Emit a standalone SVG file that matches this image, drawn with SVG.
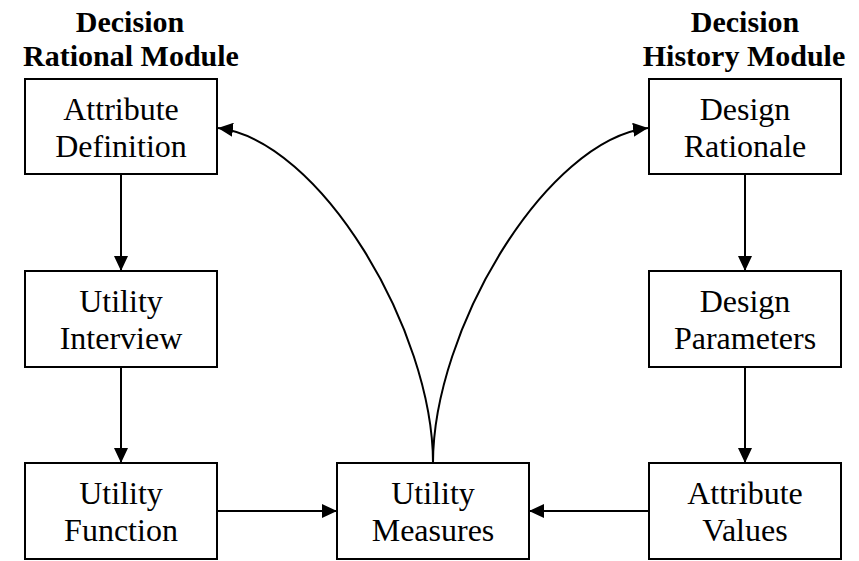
<svg xmlns="http://www.w3.org/2000/svg" width="859" height="561" viewBox="0 0 859 561">
<style>
.box{fill:#fff;stroke:#000;stroke-width:2}
.lbl{font-family:'Liberation Serif','DejaVu Serif',serif;font-size:32px;text-anchor:middle;fill:#000}
.ttl{font-family:'Liberation Serif','DejaVu Serif',serif;font-size:30px;font-weight:bold;text-anchor:middle;fill:#000}
.con{fill:none;stroke:#000;stroke-width:2}
</style>
<defs>
<marker id="arr" markerUnits="userSpaceOnUse" markerWidth="16" markerHeight="14" refX="15" refY="7" orient="auto">
<path d="M0,0 L15,7 L0,14 Z" fill="#000"/>
</marker>
</defs>
<rect width="859" height="561" fill="#fff"/>
<g id="titles">
<text class="ttl" x="130" y="32">Decision</text>
<text class="ttl" x="131" y="66">Rational Module</text>
<text class="ttl" x="745" y="32">Decision</text>
<text class="ttl" x="744" y="66">History Module</text>
</g>
<g id="connectors">
<path class="con" d="M121,174 L121,271" marker-end="url(#arr)"/>
<path class="con" d="M121,367 L121,463" marker-end="url(#arr)"/>
<path class="con" d="M745,174 L745,271" marker-end="url(#arr)"/>
<path class="con" d="M745,367 L745,463" marker-end="url(#arr)"/>
<path class="con" d="M217,511 L337,511" marker-end="url(#arr)"/>
<path class="con" d="M649,511 L529,511" marker-end="url(#arr)"/>
<path class="con" d="M433,463 C433,330 320,140 218,128" marker-end="url(#arr)"/>
<path class="con" d="M433,463 C433,330 546,140 648,128" marker-end="url(#arr)"/>
</g>
<g id="attribute-definition">
<rect class="box" x="25" y="79" width="192" height="95"/>
<text class="lbl" x="121" y="120">Attribute</text>
<text class="lbl" x="121" y="157">Definition</text>
</g>
<g id="utility-interview">
<rect class="box" x="25" y="271" width="192" height="96"/>
<text class="lbl" x="121" y="312">Utility</text>
<text class="lbl" x="121" y="349">Interview</text>
</g>
<g id="utility-function">
<rect class="box" x="25" y="463" width="192" height="96"/>
<text class="lbl" x="121" y="504">Utility</text>
<text class="lbl" x="121" y="541">Function</text>
</g>
<g id="utility-measures">
<rect class="box" x="337" y="463" width="192" height="96"/>
<text class="lbl" x="433" y="504">Utility</text>
<text class="lbl" x="433" y="541">Measures</text>
</g>
<g id="design-rationale">
<rect class="box" x="649" y="79" width="192" height="95"/>
<text class="lbl" x="745" y="120">Design</text>
<text class="lbl" x="745" y="157">Rationale</text>
</g>
<g id="design-parameters">
<rect class="box" x="649" y="271" width="192" height="96"/>
<text class="lbl" x="745" y="312">Design</text>
<text class="lbl" x="745" y="349">Parameters</text>
</g>
<g id="attribute-values">
<rect class="box" x="649" y="463" width="192" height="96"/>
<text class="lbl" x="745" y="504">Attribute</text>
<text class="lbl" x="745" y="541">Values</text>
</g>
</svg>
